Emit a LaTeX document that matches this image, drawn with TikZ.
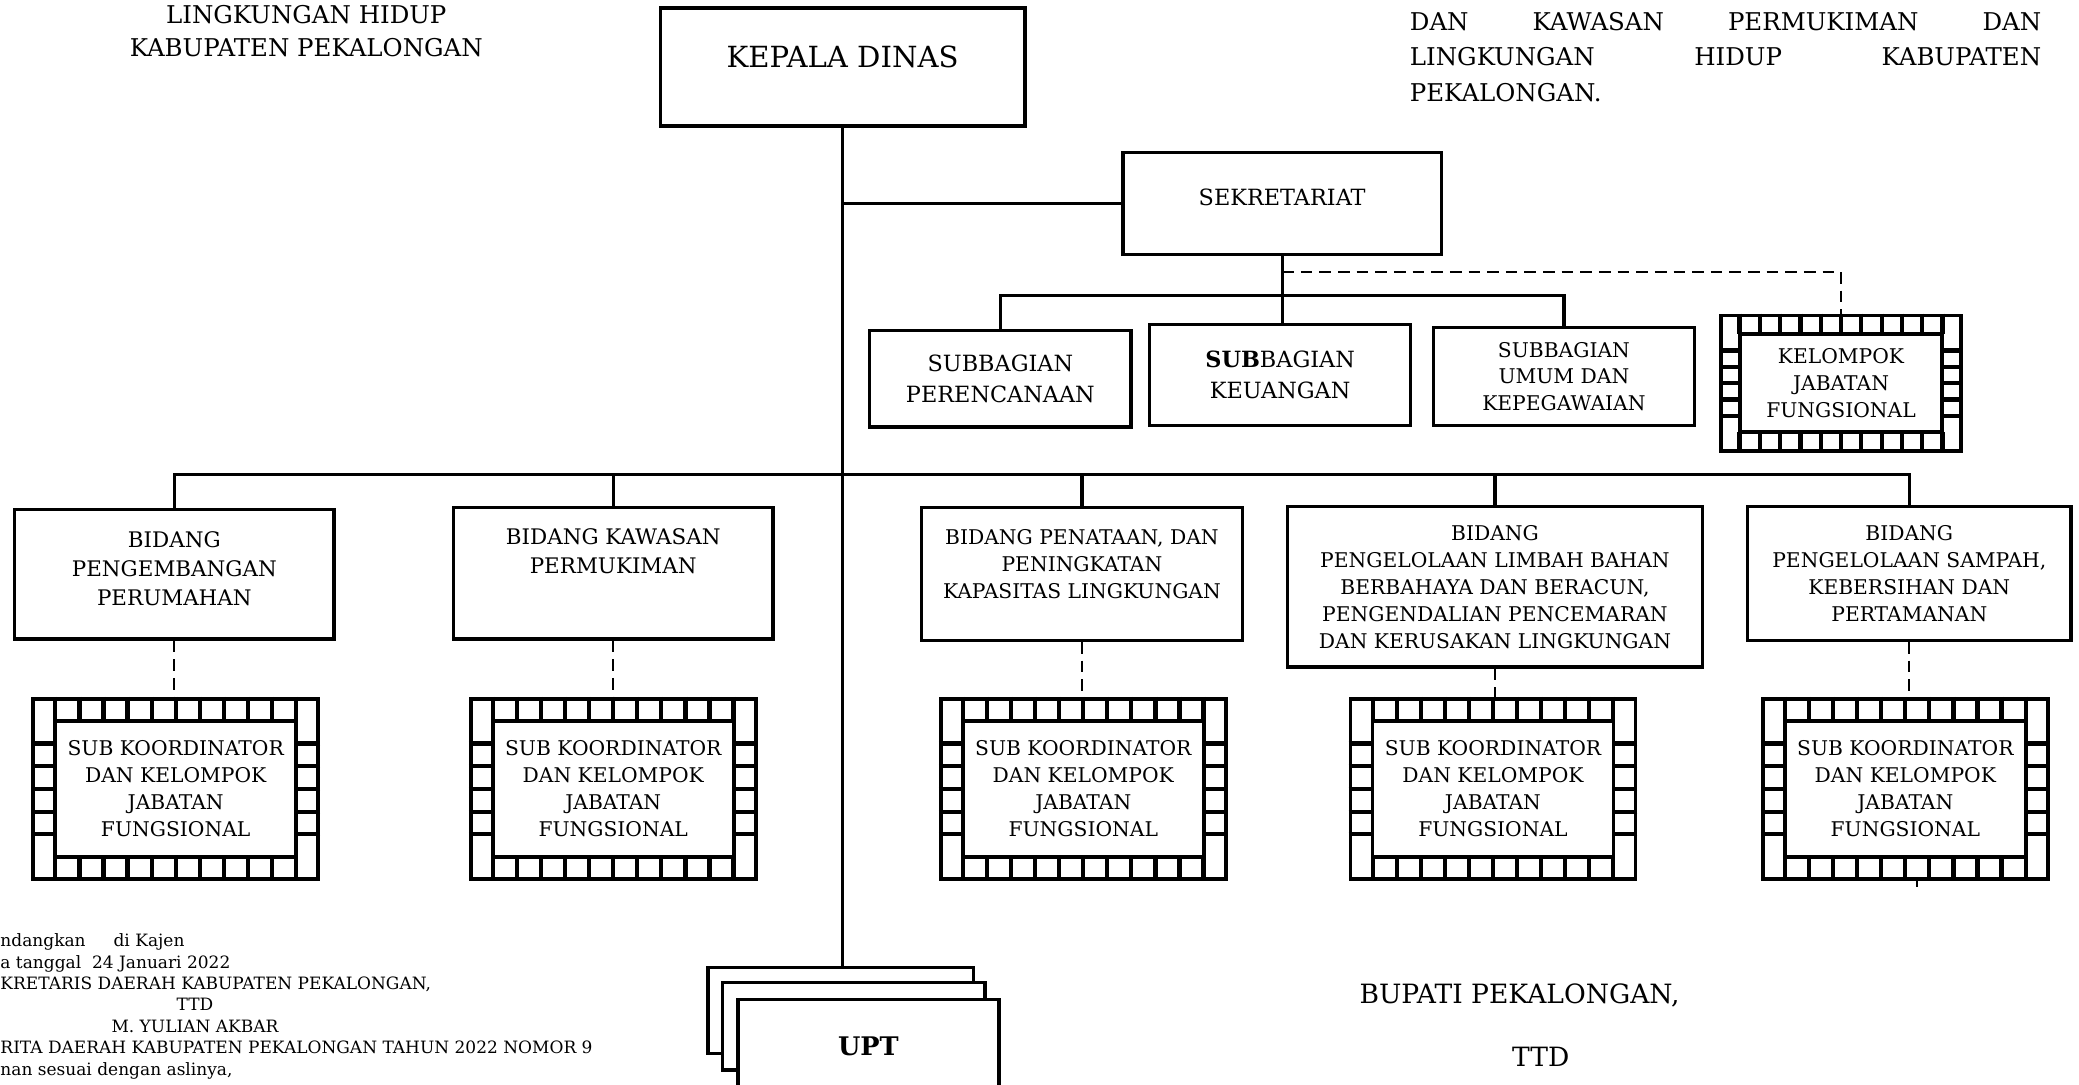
\documentclass[tikz,border=0pt]{standalone}
\usepackage{fontspec}
\setmainfont{DejaVu Serif}
\usetikzlibrary{calc,positioning}
\newcommand{\fs}[2]{\fontsize{#1}{#2}\selectfont}
% film-strip frame round a named box, #2 = band width
\newcommand{\filmframe}[2]{%
  \draw[frame] ($(#1.north west)+(#2,#2)$) rectangle ($(#1.south east)+(-#2,-#2)$);
  \coordinate (#1-a) at ($(#1.north west)+(0,#2)$); \coordinate (#1-b) at ($(#1.south west)+(0,-#2)$);
  \coordinate (#1-c) at ($(#1.north east)+(0,#2)$); \coordinate (#1-d) at ($(#1.south east)+(0,-#2)$);
  \foreach \i in {1,...,11}{\draw[cell] ($(#1.north west)!\i/12!(#1.north east)$) -- ++(0,#2); \draw[cell] ($(#1.south west)!\i/12!(#1.south east)$) -- ++(0,-#2);}
  \foreach \j in {1,...,5}{\draw[cell] ($(#1-a)!\j/6!(#1-b)$) -- ++(#2,0); \draw[cell] ($(#1-c)!\j/6!(#1-d)$) -- ++(-#2,0);}
}

\begin{document}
\begin{tikzpicture}[x=0.02cm,y=-0.02cm,every node/.style={inner sep=0pt,align=center},box/.style={draw,line width=1.4pt,fill=white},filmbox/.style={draw,line width=1.6pt,fill=white,minimum width=4.3cm,minimum height=2.72cm,font=\fs{8.7}{11.6}},frame/.style={draw,line width=1.6pt},cell/.style={line width=1.8pt},link/.style={draw,line width=1.4pt},dotlink/.style={draw,line width=0.9pt,dash pattern=on 5pt off 3pt},kop/.style={font=\fs{10.5}{14.2}},midtext/.style={font=\fs{9.6}{13.4}},smalltext/.style={font=\fs{8.7}{11.6}}]
\useasboundingbox (0,0) rectangle (1568,818);
\fill[white] (0,0) rectangle (1568,818);

% heading texts
\node[kop] (judul) at (231,23.5) {LINGKUNGAN HIDUP\\KABUPATEN PEKALONGAN};
\node[font=\fs{10.5}{15.4},anchor=west,align=left] (judulkanan) at (1063,43) {\makebox[271pt][s]{DAN KAWASAN PERMUKIMAN DAN}\\\makebox[271pt][s]{LINGKUNGAN HIDUP KABUPATEN}\\PEKALONGAN.};

% top level
\node[box,font=\fs{12.5}{15},text depth=8.6pt,minimum width=5.5cm,minimum height=1.78cm] (kadis) at (635.5,50.5) {KEPALA DINAS};
\node[box,midtext,text depth=5.7pt,minimum width=4.8cm,minimum height=1.54cm] (sekre) at (967,153.5) {SEKRETARIAT};
\node[box,midtext,minimum width=3.94cm,minimum height=1.46cm] (perenc) at (754.5,285.5) {SUBBAGIAN\\PERENCANAAN};
\node[box,midtext,minimum width=3.94cm,minimum height=1.52cm] (keu) at (965.5,283) {\textbf{SUB}BAGIAN\\KEUANGAN};
\node[box,font=\fs{8.7}{11.4},minimum width=3.94cm,minimum height=1.48cm] (umum) at (1179.5,284) {SUBBAGIAN\\UMUM DAN\\KEPEGAWAIAN};
\node[filmbox,minimum width=3.62cm,minimum height=2.04cm] (kjf) at (1388.5,289) {KELOMPOK\\JABATAN\\FUNGSIONAL};

% bidang
\node[box,font=\fs{9.2}{12.5},text depth=4.6pt,minimum width=4.82cm,minimum height=1.96cm] (bid1) at (131.5,433) {BIDANG\\PENGEMBANGAN\\PERUMAHAN};
\node[box,font=\fs{9.2}{12.5},text depth=19.4pt,minimum width=4.82cm,minimum height=1.98cm] (bid2) at (462.5,432.5) {BIDANG KAWASAN\\PERMUKIMAN};
\node[box,smalltext,text depth=9.1pt,minimum width=4.84cm,minimum height=2.0cm] (bid3) at (816,433) {BIDANG PENATAAN, DAN\\PENINGKATAN\\KAPASITAS LINGKUNGAN};
\node[box,smalltext,minimum width=6.26cm,minimum height=2.42cm] (bid4) at (1127.5,442.5) {BIDANG\\PENGELOLAAN LIMBAH BAHAN\\BERBAHAYA DAN BERACUN,\\PENGENDALIAN PENCEMARAN\\DAN KERUSAKAN LINGKUNGAN};
\node[box,smalltext,minimum width=4.88cm,minimum height=2.02cm] (bid5) at (1440,432.5) {BIDANG\\PENGELOLAAN SAMPAH,\\KEBERSIHAN DAN\\PERTAMANAN};

% sub koordinator
\node[filmbox] (sk1) at (132.5,595) {SUB KOORDINATOR\\DAN KELOMPOK\\JABATAN\\FUNGSIONAL};
\node[filmbox] (sk2) at (462.5,595) {SUB KOORDINATOR\\DAN KELOMPOK\\JABATAN\\FUNGSIONAL};
\node[filmbox] (sk3) at (817,595) {SUB KOORDINATOR\\DAN KELOMPOK\\JABATAN\\FUNGSIONAL};
\node[filmbox] (sk4) at (1126,595) {SUB KOORDINATOR\\DAN KELOMPOK\\JABATAN\\FUNGSIONAL};
\node[filmbox] (sk5) at (1437,595) {SUB KOORDINATOR\\DAN KELOMPOK\\JABATAN\\FUNGSIONAL};
\filmframe{kjf}{15.5}
\foreach \s in {sk1,sk2,sk3,sk4,sk5}{\filmframe{\s}{18}}

% UPT stack
\node[box,minimum width=4.0cm,minimum height=1.3cm] (upt1) at (634,762) {};
\node[box,minimum width=3.96cm,minimum height=1.32cm] (upt2) at (644,774) {};
\node[box,font=\bfseries\fs{11}{14},minimum width=3.94cm,minimum height=1.4cm] (upt3) at (655,789) {UPT};

% connectors
\coordinate (bus) at (636,358); \coordinate (sbus) at (968,223); \coordinate (dbus) at (968,205); \coordinate (ekor) at (1446,669);
\draw[link] (kadis.south) -- (kadis.south |- upt1.north);
\draw[link] (kadis.south |- sekre.west) -- (sekre.west);
\draw[link] (sekre.south) -- (sekre.south |- keu.north);
\draw[link] (perenc.north) |- (sbus) -| (umum.north);
\draw[dotlink] (sekre.south |- dbus) -| (kjf.north);
\draw[link] (bid1.north) |- (bus) -| (bid5.north);
\foreach \b in {bid2,bid3,bid4}{\draw[link] (\b.north) -- (\b.north |- bus);}
\foreach \i in {1,...,5}{\draw[dotlink] (bid\i.south) -- (bid\i.south |- sk\i.north);}
\draw[dotlink] (sk5.south -| ekor) -- (ekor);

% signatures
\node[font=\fs{7.3}{9.2},anchor=west,align=left] (sah) at (0,759) {ndangkan\hspace{12pt}di Kajen\\a tanggal\ \ 24 Januari 2022\\KRETARIS DAERAH KABUPATEN PEKALONGAN,\\\makebox[167pt]{TTD}\\\makebox[167pt]{M. YULIAN AKBAR}\\RITA DAERAH KABUPATEN PEKALONGAN TAHUN 2022 NOMOR 9\\nan sesuai dengan aslinya,};
\node[font=\fs{11.4}{14},anchor=west] (bupati) at (1025,751) {BUPATI PEKALONGAN,};
\node[font=\fs{11.4}{14}] (ttd) at (1162,797) {TTD};
\end{tikzpicture}
\end{document}
